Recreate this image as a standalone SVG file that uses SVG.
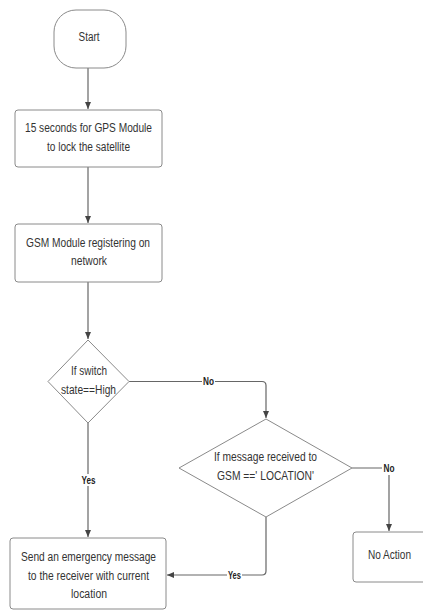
<svg xmlns="http://www.w3.org/2000/svg" width="423" height="610" viewBox="0 0 423 610">
<style>
.shape{fill:#fff;stroke:#8a8a8a;stroke-width:1}
.t{font-family:"Liberation Sans",Arial,sans-serif;font-size:12.5px;fill:#333;text-anchor:middle}
.lbl{font-family:"Liberation Sans",Arial,sans-serif;font-size:10px;font-weight:bold;fill:#222;text-anchor:middle}
.edge{fill:none;stroke:#666;stroke-width:1.2}
.lbg{fill:#fff}
</style>
<defs>
<marker id="arr" markerWidth="8" markerHeight="8" refX="7" refY="4" orient="auto" markerUnits="userSpaceOnUse">
<path d="M0,1 L7,4 L0,7 Z" fill="#444"/>
</marker>
</defs>
<rect width="423" height="610" fill="#fff"/>
<g id="connectors">
<path class="edge" d="M88,68 V109" marker-end="url(#arr)"/>
<path class="edge" d="M88,167 V223" marker-end="url(#arr)"/>
<path class="edge" d="M88,282 V339" marker-end="url(#arr)"/>
<path class="edge" d="M129,381.5 H262 Q266,381.5 266,385.5 V418" marker-end="url(#arr)"/>
<path class="edge" d="M88,423 V537" marker-end="url(#arr)"/>
<path class="edge" d="M352,468 H389 V531" marker-end="url(#arr)"/>
<path class="edge" d="M266,517 V571 Q266,575 262,575 H167" marker-end="url(#arr)"/>
<rect class="lbg" x="202" y="375" width="13" height="12"/>
<text class="lbl" x="208.5" y="385" textLength="11" lengthAdjust="spacingAndGlyphs">No</text>
<rect class="lbg" x="382" y="462" width="14" height="13"/>
<text class="lbl" x="389" y="472" textLength="11" lengthAdjust="spacingAndGlyphs">No</text>
<rect class="lbg" x="81" y="474" width="15" height="12"/>
<text class="lbl" x="88.5" y="484" textLength="14" lengthAdjust="spacingAndGlyphs">Yes</text>
<rect class="lbg" x="227" y="569" width="15" height="12"/>
<text class="lbl" x="234.5" y="579" textLength="13" lengthAdjust="spacingAndGlyphs">Yes</text>
</g>
<g id="start">
<rect class="shape" x="54" y="10" width="72" height="58" rx="22" ry="22"/>
<text class="t" x="89" y="41" textLength="21" lengthAdjust="spacingAndGlyphs">Start</text>
</g>
<g id="gps">
<rect class="shape" x="15" y="110" width="147" height="57" rx="3"/>
<text class="t" x="88.5" y="131.5" textLength="127" lengthAdjust="spacingAndGlyphs">15 seconds for GPS Module</text>
<text class="t" x="88.5" y="151" textLength="83" lengthAdjust="spacingAndGlyphs">to lock the satellite</text>
</g>
<g id="gsm">
<rect class="shape" x="15" y="224" width="147" height="58" rx="3"/>
<text class="t" x="88" y="246.5" textLength="124" lengthAdjust="spacingAndGlyphs">GSM Module registering on</text>
<text class="t" x="89" y="264.5" textLength="36" lengthAdjust="spacingAndGlyphs">network</text>
</g>
<g id="switch">
<path class="shape" d="M88,340 L129,381.5 L88,423 L48,381.5 Z" stroke-linejoin="round"/>
<text class="t" x="89" y="374.5" textLength="36" lengthAdjust="spacingAndGlyphs">If switch</text>
<text class="t" x="88.5" y="393.5" textLength="55" lengthAdjust="spacingAndGlyphs">state==High</text>
</g>
<g id="message">
<path class="shape" d="M266,419 L352,468 L266,517 L179,468 Z" stroke-linejoin="round"/>
<text class="t" x="265.5" y="460.5" textLength="103" lengthAdjust="spacingAndGlyphs">If message received to</text>
<text class="t" x="265.5" y="479.5" textLength="97" lengthAdjust="spacingAndGlyphs">GSM ==' LOCATION'</text>
</g>
<g id="send">
<rect class="shape" x="10" y="538" width="156" height="71" rx="3"/>
<text class="t" x="88.5" y="560.5" textLength="135" lengthAdjust="spacingAndGlyphs">Send an emergency message</text>
<text class="t" x="88.5" y="579.5" textLength="121" lengthAdjust="spacingAndGlyphs">to the receiver with current</text>
<text class="t" x="89" y="597.5" textLength="36" lengthAdjust="spacingAndGlyphs">location</text>
</g>
<g id="noaction">
<rect class="shape" x="353" y="532" width="74" height="50" rx="3"/>
<text class="t" x="389.5" y="558.5" textLength="43" lengthAdjust="spacingAndGlyphs">No Action</text>
</g>
</svg>
